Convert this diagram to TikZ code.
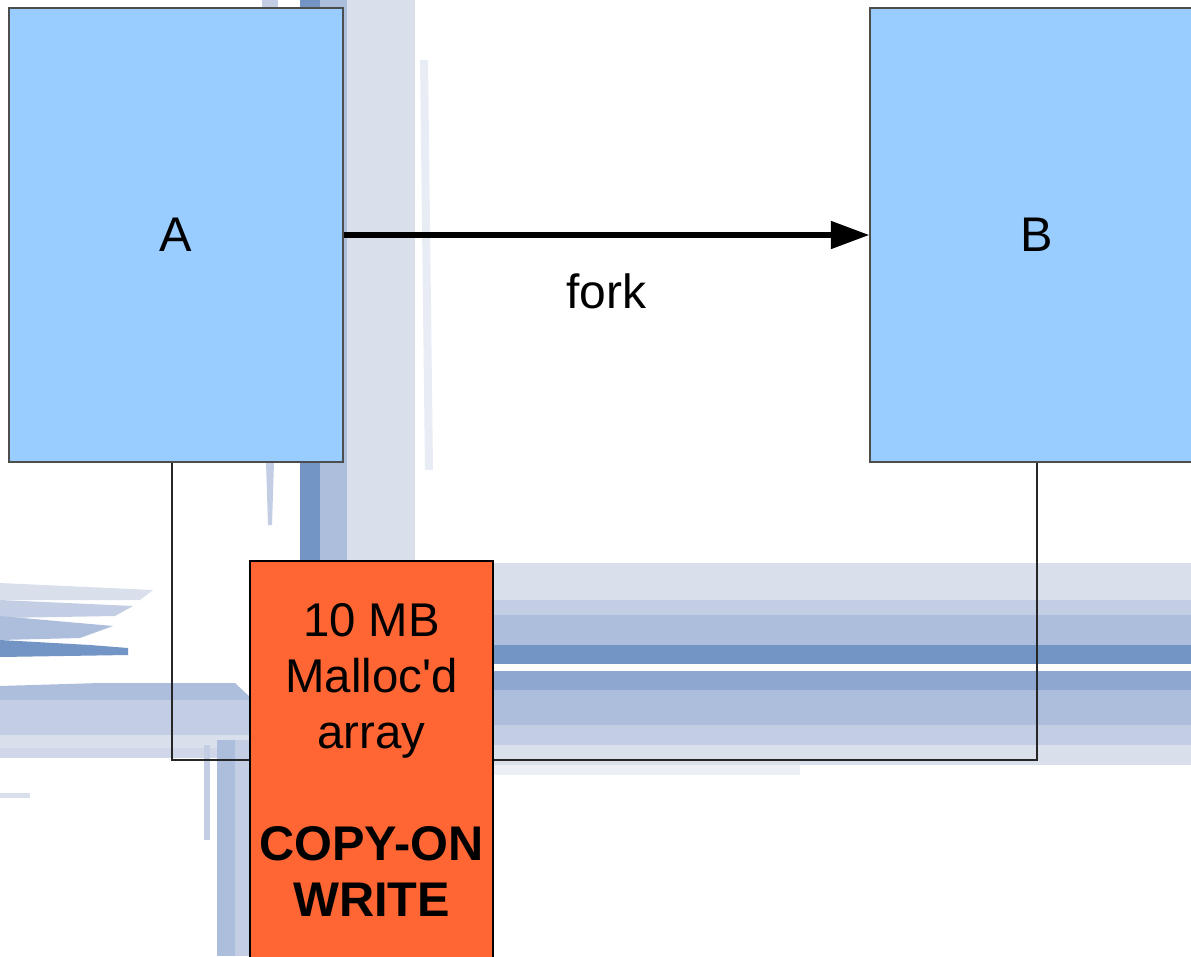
\documentclass[tikz,border=0pt]{standalone}
\usepackage{fontspec}
\newfontfamily\labelfont{Liberation Sans}
\usetikzlibrary{arrows.meta}

\definecolor{procblue}{HTML}{99CCFF}
\definecolor{memorange}{HTML}{FF6633}
\definecolor{edgegray}{HTML}{4D4D4D}
\definecolor{brushA}{HTML}{D9E0EC}
\definecolor{brushB}{HTML}{C3CDE3}
\definecolor{brushC}{HTML}{ADBDDC}
\definecolor{brushD}{HTML}{7395C6}
\definecolor{brushE}{HTML}{8EA7D0}

\tikzset{
  proc/.style={draw=edgegray, line width=0.8pt, fill=procblue,
    minimum width=250.5pt, minimum height=340.5pt, inner sep=0pt,
    font=\labelfont\fontsize{36.5}{43}\selectfont},
  memblock/.style={draw=black, line width=0.8pt, fill=memorange,
    minimum width=182.25pt, minimum height=298.5pt, inner sep=0pt,
    align=center, font=\labelfont\fontsize{35.5}{42}\selectfont},
  forkarrow/.style={line width=4.5pt, -{Triangle[length=29pt,width=20pt]}},
  link/.style={draw=black!85, line width=0.8pt},
  edgelabel/.style={font=\labelfont\fontsize{36}{43}\selectfont, inner sep=0pt}
}

\begin{document}
\begin{tikzpicture}[x=0.75pt, y=-0.75pt]
\useasboundingbox (0,0) rectangle (1191,956);
\fill[white] (0,0) rectangle (1191,956);

% vertical brush stroke behind process A
\fill[brushA] (345,0) rectangle (415,561);
\fill[brushC] (320,0) rectangle (347,561);
\fill[brushD] (300,0) rectangle (320,561);
\fill[brushA!60!white] (420,60) -- (428,60) -- (433,470) -- (425,470) -- cycle;
\fill[brushB] (262,0) rectangle (278,8);
\fill[brushB] (266,462) -- (274,462) -- (272,525) -- (268,525) -- cycle;

% horizontal brush stroke, right part
\fill[brushA] (493,563) rectangle (1191,600);
\fill[brushB] (493,600) rectangle (1191,615);
\fill[brushC] (493,615) rectangle (1191,645);
\fill[brushD] (493,645) rectangle (1191,664);
\fill[white]  (493,664) rectangle (1191,671);
\fill[brushE] (493,671) rectangle (1191,690);
\fill[brushC] (493,690) rectangle (1191,725);
\fill[brushB] (493,725) rectangle (1191,745);
\fill[brushA] (493,745) rectangle (1191,765);
\fill[brushA!50!white] (493,765) rectangle (800,775);

% horizontal brush stroke, left part
\fill[brushA] (0,583) -- (153,590) -- (140,600) -- (0,600) -- cycle;
\fill[brushB] (0,600) -- (133,606) -- (115,616) -- (0,618) -- cycle;
\fill[brushC] (0,616) -- (113,626) -- (80,638) -- (0,640) -- cycle;
\fill[brushD] (0,640) -- (90,645) -- (128,648) -- (128,655) -- (0,657) -- cycle;
\fill[brushC] (100,683) -- (235,683) -- (250,697) -- (250,700) -- (0,700) -- (0,686) -- cycle;
\fill[brushB] (0,700) rectangle (250,735);
\fill[brushA] (0,735) rectangle (250,748);
\fill[brushB!80!white] (0,748) rectangle (250,758);
\fill[brushA] (0,793) rectangle (30,798);

% vertical brush stroke below the horizontal one
\fill[brushC] (217,740) rectangle (235,956);
\fill[brushB] (235,740) rectangle (250,956);
\fill[brushB] (204,745) rectangle (210,840);

% processes and shared memory
\node[proc] (A) at (176,235) {A};
\node[proc] (B) at (1037,235) {B};
\node[memblock] (M) at (371.5,760)
  {10 MB\\Malloc'd\\array\\[42pt]\fontsize{36.5}{42}\selectfont\bfseries COPY-ON\\\fontsize{36.5}{42}\selectfont\bfseries WRITE};

% connectors
\draw[forkarrow] (A) -- (B);
\node[edgelabel] (forklabel) at (606,291) {fork};
\draw[link] ([xshift=-3pt]A.south) |- (M.west);
\draw[link] (M.east) -| (B.south);
\end{tikzpicture}
\end{document}
